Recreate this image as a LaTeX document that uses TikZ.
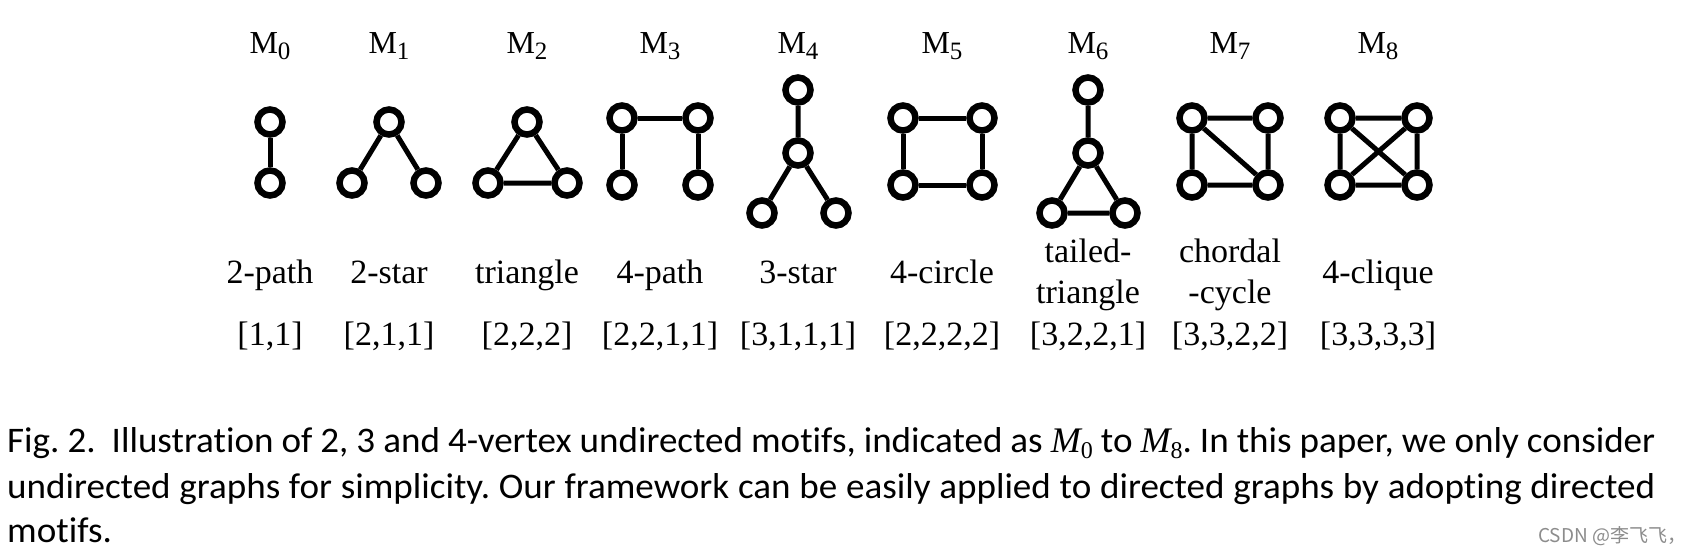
\documentclass[tikz,border=0pt]{standalone}
\usepackage{fontspec}
\setmainfont{Liberation Serif}
\newfontfamily\capfont[FakeStretch=1.03,Ligatures=NoCommon]{Carlito}
\newfontfamily\tnr{Liberation Serif}
\newfontfamily\cjkfont{Noto Sans CJK SC}
\newcommand\msub[1]{\raisebox{-6pt}{\fontsize{25}{25}\selectfont #1}}
\newcommand\csub[1]{\raisebox{-6pt}{\fontsize{24}{24}\selectfont\tnr #1}}
\begin{document}
\frenchspacing
\begin{tikzpicture}[x=1pt,y=-1pt,
  vtx/.style={circle,draw=black,line width=6.5pt,minimum size=25pt,inner sep=0pt},
  edg/.style={line width=5pt},
  mlab/.style={anchor=base,inner sep=0pt,font=\fontsize{32}{36}\selectfont},
  nlab/.style={anchor=base,inner sep=0pt,font=\fontsize{34}{38}\selectfont},
  capline/.style={anchor=base west,inner sep=0pt,font=\capfont\fontsize{36}{42}\selectfont}]
\useasboundingbox[fill=white] (0,0) rectangle (1682,555);

% ---- M0
\node[vtx] (a0) at (270,122) {};
\node[vtx] (b0) at (270,183) {};
\draw[edg] (a0) -- (b0);
% ---- M1
\node[vtx] (a1) at (389,122) {};
\node[vtx] (b1) at (352,183) {};
\node[vtx] (c1) at (426,183) {};
\draw[edg] (a1) -- (b1) (a1) -- (c1);
% ---- M2
\node[vtx] (a2) at (527,122) {};
\node[vtx] (b2) at (488,183) {};
\node[vtx] (c2) at (567,183) {};
\draw[edg] (a2) -- (b2) (a2) -- (c2) (b2) -- (c2);
% ---- M3
\node[vtx] (a3) at (622,118) {};
\node[vtx] (b3) at (698,118) {};
\node[vtx] (c3) at (622,185) {};
\node[vtx] (d3) at (698,185) {};
\draw[edg] (a3) -- (b3) (a3) -- (c3) (b3) -- (d3);
% ---- M4
\node[vtx] (a4) at (798,90) {};
\node[vtx] (b4) at (798,153) {};
\node[vtx] (c4) at (762,213) {};
\node[vtx] (d4) at (836,213) {};
\draw[edg] (a4) -- (b4) (b4) -- (c4) (b4) -- (d4);
% ---- M5
\node[vtx] (a5) at (903,118) {};
\node[vtx] (b5) at (982,118) {};
\node[vtx] (c5) at (903,185) {};
\node[vtx] (d5) at (982,185) {};
\draw[edg] (a5) -- (b5) (b5) -- (d5) (d5) -- (c5) (c5) -- (a5);
% ---- M6
\node[vtx] (a6) at (1088,90) {};
\node[vtx] (b6) at (1088,153) {};
\node[vtx] (c6) at (1052,213) {};
\node[vtx] (d6) at (1125,213) {};
\draw[edg] (a6) -- (b6) (b6) -- (c6) (b6) -- (d6) (c6) -- (d6);
% ---- M7
\node[vtx] (a7) at (1192,118) {};
\node[vtx] (b7) at (1268,118) {};
\node[vtx] (c7) at (1192,185) {};
\node[vtx] (d7) at (1268,185) {};
\draw[edg] (a7) -- (b7) (b7) -- (d7) (d7) -- (c7) (c7) -- (a7) (a7) -- (d7);
% ---- M8
\node[vtx] (a8) at (1340,118) {};
\node[vtx] (b8) at (1417,118) {};
\node[vtx] (c8) at (1340,185) {};
\node[vtx] (d8) at (1417,185) {};
\draw[edg] (a8) -- (b8) (b8) -- (d8) (d8) -- (c8) (c8) -- (a8) (a8) -- (d8) (b8) -- (c8);

% ---- top labels
\node[mlab] (t0) at (270,53) {M\msub{0}};
\node[mlab] (t1) at (389,53) {M\msub{1}};
\node[mlab] (t2) at (527,53) {M\msub{2}};
\node[mlab] (t3) at (660,53) {M\msub{3}};
\node[mlab] (t4) at (798,53) {M\msub{4}};
\node[mlab] (t5) at (942,53) {M\msub{5}};
\node[mlab] (t6) at (1088,53) {M\msub{6}};
\node[mlab] (t7) at (1230,53) {M\msub{7}};
\node[mlab] (t8) at (1378,53) {M\msub{8}};

% ---- names
\node[nlab] (n0) at (270,283) {2-path};
\node[nlab] (n1) at (389,283) {2-star};
\node[nlab] (n2) at (527,283) {triangle};
\node[nlab] (n3) at (660,283) {4-path};
\node[nlab] (n4) at (798,283) {3-star};
\node[nlab] (n5) at (942,283) {4-circle};
\node[nlab] (n6a) at (1088,262) {tailed-};
\node[nlab] (n6b) at (1088,303) {triangle};
\node[nlab] (n7a) at (1230,262) {chordal};
\node[nlab] (n7b) at (1230,303) {-cycle};
\node[nlab] (n8) at (1378,283) {4-clique};

% ---- degree vectors
\node[nlab] (v0) at (270,345) {[1,1]};
\node[nlab] (v1) at (389,345) {[2,1,1]};
\node[nlab] (v2) at (527,345) {[2,2,2]};
\node[nlab] (v3) at (660,345) {[2,2,1,1]};
\node[nlab] (v4) at (798,345) {[3,1,1,1]};
\node[nlab] (v5) at (942,345) {[2,2,2,2]};
\node[nlab] (v6) at (1088,345) {[3,2,2,1]};
\node[nlab] (v7) at (1230,345) {[3,3,2,2]};
\node[nlab] (v8) at (1378,345) {[3,3,3,3]};

% ---- caption
\node[capline] (cap1) at (7,452) {\makebox[1648pt][s]{Fig. 2.\ \ Illustration of 2, 3 and 4-vertex undirected motifs, indicated as {\tnr\itshape M}\csub{0} to {\tnr\itshape M}\csub{8}. In this paper, we only consider}};
\node[capline] (cap2) at (7,498) {\makebox[1648pt][s]{undirected graphs for simplicity. Our framework can be easily applied to directed graphs by adopting directed}};
\node[capline] (cap3) at (7,542) {motifs.};
\node[anchor=base west,inner sep=0pt,text=black!45,font=\cjkfont\fontsize{19}{22}\selectfont] (wm) at (1538,542) {CSDN @李飞飞，};
\end{tikzpicture}
\end{document}
